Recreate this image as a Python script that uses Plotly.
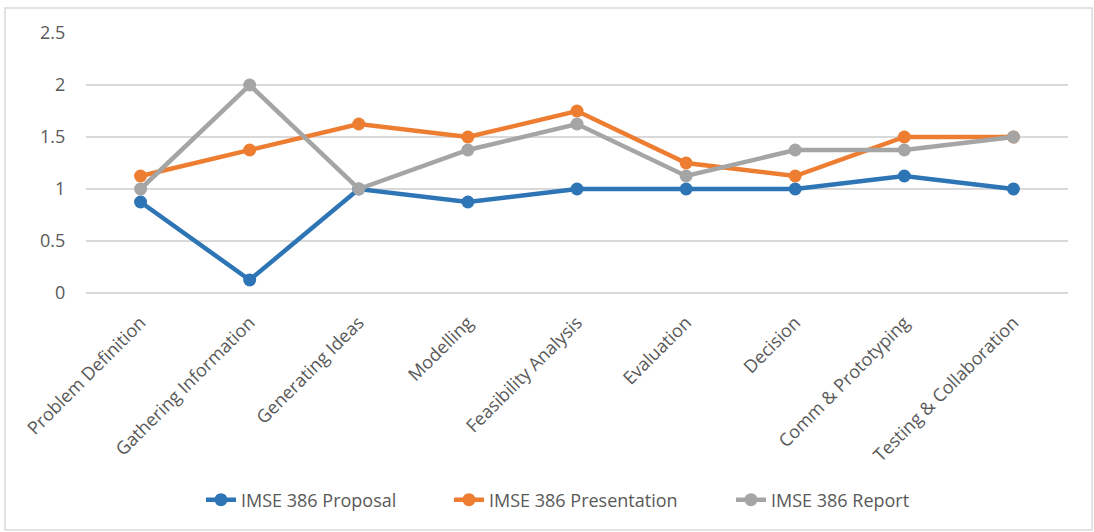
import plotly.graph_objects as go

categories = ["Problem Definition", "Gathering Information", "Generating Ideas", "Modelling",
              "Feasibility Analysis", "Evaluation", "Decision", "Comm & Prototyping",
              "Testing & Collaboration"]
proposal = [0.875, 0.125, 1.0, 0.875, 1.0, 1.0, 1.0, 1.125, 1.0]
presentation = [1.125, 1.375, 1.625, 1.5, 1.75, 1.25, 1.125, 1.5, 1.5]
report = [1.0, 2.0, 1.0, 1.375, 1.625, 1.125, 1.375, 1.375, 1.5]
y_ticks = [0, 0.5, 1, 1.5, 2, 2.5]
y_tick_labels = ["0", "0.5", "1", "1.5", "2", "2.5"]

W, H = 1094, 532
ml, mr, mt, mb = 86, 26, 33, 239
pw, ph = W - ml - mr, H - mt - mb

def px(x):
    return (x - ml) / pw

def py(y):
    return (H - mb - y) / ph

series = [
    ("IMSE 386 Proposal", proposal, "#2E75B6", "legend", 201),
    ("IMSE 386 Presentation", presentation, "#ED7D31", "legend2", 449),
    ("IMSE 386 Report", report, "#A5A5A5", "legend3", 731),
]

fig = go.Figure()
legends = {}
for name, vals, color, leg, lx in series:
    fig.add_trace(go.Scatter(
        x=categories, y=vals, name=name, mode="lines+markers",
        line=dict(color=color, width=4.5),
        marker=dict(color=color, size=13),
        legend=leg,
    ))
    legends[leg] = dict(orientation="h", x=px(lx), xanchor="left", y=py(500), yanchor="middle",
                        font=dict(size=18, color="#595959"), bgcolor="rgba(0,0,0,0)")

fig.update_layout(
    width=W, height=H,
    margin=dict(l=ml, r=mr, t=mt, b=mb),
    paper_bgcolor="white", plot_bgcolor="white",
    font=dict(family="Open Sans", color="#595959", size=18),
    showlegend=True,
    shapes=[dict(type="rect", xref="paper", yref="paper",
                 x0=px(5), x1=px(1092), y0=py(8), y1=py(530),
                 line=dict(color="#d9d9d9", width=1.5), fillcolor="rgba(0,0,0,0)", layer="below")],
    **legends,
)
fig.update_xaxes(
    type="category", range=[-0.5, 8.5], tickangle=-45, showgrid=False,
    showline=False, ticks="outside", ticklen=11, tickcolor="rgba(0,0,0,0)",
    tickfont=dict(size=18, color="#595959"), zeroline=False,
)
fig.update_yaxes(
    range=[0, 2.5], tickvals=y_ticks, ticktext=y_tick_labels,
    showgrid=True, gridcolor="#d9d9d9", gridwidth=1.5,
    zeroline=True, zerolinecolor="#d9d9d9", zerolinewidth=1.5,
    ticks="outside", ticklen=16, tickcolor="rgba(0,0,0,0)",
    tickfont=dict(size=18, color="#595959"), showline=False,
)
fig.write_html("out.html")
